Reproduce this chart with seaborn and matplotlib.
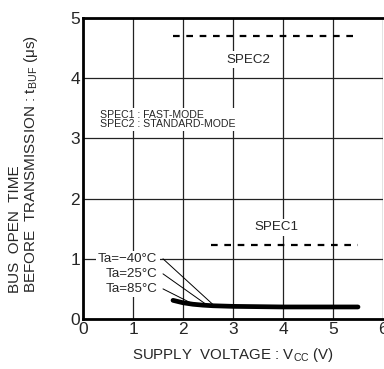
import numpy as np
import pandas as pd
import seaborn as sns
import matplotlib.pyplot as plt

# curve (all three temperatures overlap)
vcc = [1.8, 2.0, 2.2, 2.4, 2.6, 3.0, 3.5, 4.0, 4.5, 5.0, 5.5]
tbuf = [0.31, 0.27, 0.245, 0.23, 0.22, 0.21, 0.205, 0.2, 0.2, 0.2, 0.2]

# spec lines
spec_x = [1.8, 5.5]
spec1_x = [2.55, 5.5]
spec1_y = [1.23, 1.23]
spec2_y = [4.7, 4.7]

temp_labels = ['Ta=\u221240\u00b0C', 'Ta=25\u00b0C', 'Ta=85\u00b0C']
label_y = [1.0, 0.75, 0.5]
leader_end = [(2.6, 0.24), (2.45, 0.25), (2.15, 0.27)]

sns.set_style('white')
plt.rcParams['font.family'] = ['Liberation Sans', 'DejaVu Sans']

fig = plt.figure(figsize=(3.84, 3.69), dpi=100)
ax = fig.add_axes([83 / 384, 1 - 319 / 369, 300 / 384, 301 / 369])

ax.grid(True, color='#222222', lw=0.9)
ax.set_axisbelow(True)

df = pd.DataFrame({'vcc': vcc, 'tbuf': tbuf})
sns.lineplot(data=df, x='vcc', y='tbuf', ax=ax, color='black', lw=3.4)
sns.lineplot(x=spec_x, y=spec2_y, ax=ax, color='black', lw=1.6, linestyle=(0, (3, 3)))
sns.lineplot(x=spec1_x, y=spec1_y, ax=ax, color='black', lw=1.6, linestyle=(0, (3, 3)))

box = dict(facecolor='white', edgecolor='none', pad=1.5)
ax.text(3.3, 4.31, 'SPEC2', fontsize=9.6, ha='center', va='center', bbox=box, zorder=5)
ax.text(3.87, 1.52, 'SPEC1', fontsize=9.6, ha='center', va='center', bbox=box, zorder=5)
ax.text(0.34, 3.31, 'SPEC1 : FAST-MODE\nSPEC2 : STANDARD-MODE', fontsize=7.6,
        ha='left', va='center', linespacing=0.85, bbox=box, zorder=5)

for lab, ly, (ex, ey) in zip(temp_labels, label_y, leader_end):
    ax.text(1.49, ly, lab, fontsize=9.6, ha='right', va='center', bbox=box, zorder=5)
    ax.plot([1.6, ex], [ly, ey], color='black', lw=0.7)

ax.set_xlim(0, 6)
ax.set_ylim(0, 5)
ax.set_xticks(range(7))
ax.set_yticks(range(6))
ax.tick_params(axis='both', labelsize=12.5, length=0, pad=2)
ax.set_xlabel('SUPPLY  VOLTAGE : V$_{\\mathregular{CC}}$ (V)', fontsize=10.8, labelpad=7)
ax.set_ylabel('')

for side in ['left', 'bottom', 'top']:
    ax.spines[side].set_linewidth(2)
    ax.spines[side].set_color('black')
ax.spines['right'].set_visible(False)

fig.text(0.062, 1 - 293 / 369, 'BUS  OPEN  TIME\nBEFORE  TRANSMISSION : t$_{\\mathregular{BUF}}$ (\u03bcs)',
         rotation=90, fontsize=11, ha='center', va='bottom', multialignment='left',
         linespacing=1.0)

fig.savefig('out.png', dpi=100)
